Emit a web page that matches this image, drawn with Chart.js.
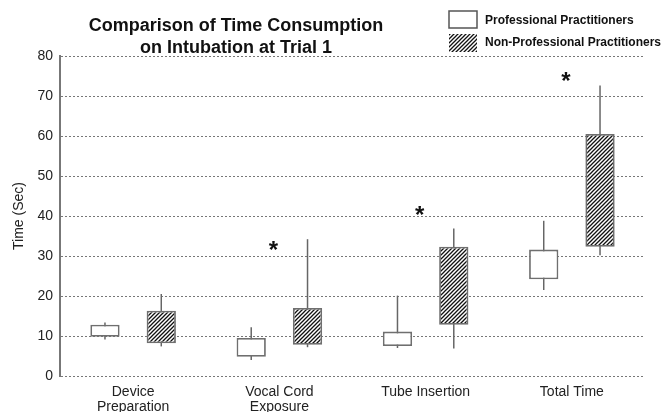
<!DOCTYPE html>
<html>
<head>
<meta charset="utf-8">
<script src="https://cdn.jsdelivr.net/npm/chart.js@4"></script>
<style>
  html, body { margin: 0; padding: 0; background: #fff; }
  canvas { display: block; }
</style>
</head>
<body>
<canvas id="chart" width="663" height="412"></canvas>
<script>
const categories = [['Device', 'Preparation'], ['Vocal Cord', 'Exposure'], 'Tube Insertion', 'Total Time'];
const seriesNames = ['Professional Practitioners', 'Non-Professional Practitioners'];

// boxes are [q1, q3], whiskers are [min, max], seconds
const profBox = [[9.8, 12.8], [4.8, 9.5], [7.5, 11.1], [24.2, 31.6]];
const profWhisker = [[9.1, 13.4], [4.0, 12.2], [7.0, 20.1], [21.5, 38.8]];
const nonProfBox = [[8.2, 16.3], [7.8, 17.0], [12.8, 32.3], [32.3, 60.5]];
const nonProfWhisker = [[7.4, 20.5], [7.2, 34.2], [6.9, 36.9], [30.2, 72.6]];

// where the significance asterisk sits (null = none)
const stars = [null, 33, 41.8, 75.3];

const yMin = 0, yMax = 80, yStep = 10;

const FONT = "'Liberation Sans', Arial, sans-serif";

function hatch() {
  const c = document.createElement('canvas');
  c.width = 4; c.height = 4;
  const g = c.getContext('2d');
  g.fillStyle = '#fff';
  g.fillRect(0, 0, 4, 4);
  g.strokeStyle = '#111';
  g.lineWidth = 1.3;
  g.beginPath();
  g.moveTo(0, 4); g.lineTo(4, 0);
  g.moveTo(-1, 1); g.lineTo(1, -1);
  g.moveTo(3, 5); g.lineTo(5, 3);
  g.stroke();
  return g.createPattern(c, 'repeat');
}
const hatchFill = hatch();

// whiskers go behind the boxes
const whiskerPlugin = {
  id: 'whiskers',
  beforeDatasetsDraw(chart) {
    const ctx = chart.ctx, y = chart.scales.y;
    [profWhisker, nonProfWhisker].forEach((w, i) => {
      chart.getDatasetMeta(i).data.forEach((bar, j) => {
        ctx.save();
        ctx.strokeStyle = '#666';
        ctx.lineWidth = 1.5;
        ctx.beginPath();
        ctx.moveTo(bar.x, y.getPixelForValue(w[j][0]));
        ctx.lineTo(bar.x, y.getPixelForValue(w[j][1]));
        ctx.stroke();
        ctx.restore();
      });
    });
  }
};

// title, legend and asterisks
const extrasPlugin = {
  id: 'extras',
  afterDraw(chart) {
    const ctx = chart.ctx, x = chart.scales.x, y = chart.scales.y;
    ctx.save();
    ctx.fillStyle = '#111';
    ctx.textAlign = 'center';
    ctx.textBaseline = 'alphabetic';
    ctx.font = 'bold 18px ' + FONT;
    ctx.fillText('Comparison of Time Consumption', 236, 31);
    ctx.fillText('on Intubation at Trial 1', 236, 53);

    // legend
    ctx.fillStyle = '#fff';
    ctx.strokeStyle = '#555';
    ctx.lineWidth = 1.5;
    ctx.fillRect(449, 11, 28, 17);
    ctx.strokeRect(449, 11, 28, 17);
    ctx.fillStyle = hatchFill;
    ctx.fillRect(449, 34, 28, 18);
    ctx.fillStyle = '#111';
    ctx.textAlign = 'left';
    ctx.textBaseline = 'middle';
    ctx.font = 'bold 12px ' + FONT;
    ctx.fillText(seriesNames[0], 485, 21);
    ctx.fillText(seriesNames[1], 485, 43);

    // asterisks
    ctx.textAlign = 'center';
    ctx.textBaseline = 'alphabetic';
    ctx.font = 'bold 24px ' + FONT;
    stars.forEach((v, i) => {
      if (v === null) return;
      ctx.fillText('*', x.getPixelForValue(i) - 6, y.getPixelForValue(v) + 14);
    });
    ctx.restore();
  }
};

new Chart(document.getElementById('chart'), {
  type: 'bar',
  data: {
    labels: categories,
    datasets: [
      {
        label: seriesNames[0],
        data: profBox,
        backgroundColor: '#fff',
        borderColor: '#6f6f6f',
        borderWidth: 1.8,
        borderSkipped: false,
        categoryPercentage: 0.77,
        barPercentage: 0.52
      },
      {
        label: seriesNames[1],
        data: nonProfBox,
        backgroundColor: hatchFill,
        borderColor: '#6f6f6f',
        borderWidth: 1.8,
        borderSkipped: false,
        categoryPercentage: 0.77,
        barPercentage: 0.52
      }
    ]
  },
  options: {
    responsive: false,
    animation: false,
    layout: { padding: { top: 56, right: 18, bottom: 0, left: 0 } },
    plugins: {
      legend: { display: false },
      title: { display: false },
      tooltip: { enabled: false }
    },
    scales: {
      x: {
        grid: { display: false },
        border: { display: false },
        ticks: {
          color: '#222',
          font: { family: FONT, size: 14, lineHeight: 1.05 },
          padding: 1,
          maxRotation: 0,
          autoSkip: false
        },
        afterFit(s) { s.height = 36; }
      },
      y: {
        min: yMin,
        max: yMax,
        grid: { color: '#777', lineWidth: 1, drawTicks: false },
        border: { display: true, color: '#777', width: 2, dash: [2, 2] },
        ticks: {
          stepSize: yStep,
          color: '#222',
          font: { family: FONT, size: 14 },
          padding: 7
        },
        title: {
          display: true,
          text: 'Time (Sec)',
          color: '#222',
          font: { family: FONT, size: 14 },
          padding: { top: 11, bottom: 0 }
        },
        afterFit(s) { s.width = 60; }
      }
    }
  },
  plugins: [whiskerPlugin, extrasPlugin]
});
</script>
</body>
</html>
